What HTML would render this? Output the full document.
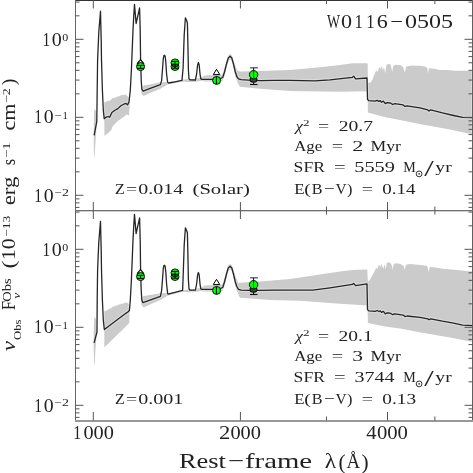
<!DOCTYPE html>
<html><head><meta charset="utf-8"><style>
html,body{margin:0;padding:0;background:#fff;width:473px;height:473px;overflow:hidden;}
svg{display:block;will-change:transform;}
</style></head><body>
<svg width="473" height="473" viewBox="0 0 473 473">
<rect width="473" height="473" fill="#fff"/>
<polygon points="94.3,109.0 96.0,111.0 96.6,122.0 96.2,132.0 95.3,145.0 94.6,156.6 94.0,156.6 93.7,140.0 93.9,120.0" fill="#cbcbcb"/>
<polygon points="104.0,102.8 105.5,102.3 107.5,101.1 109.5,100.8 111.2,99.6 112.7,98.1 115.0,97.8 117.1,96.7 119.0,96.3 120.8,95.2 123.0,95.0 125.3,94.4 127.5,95.9 129.4,98.5 130.0,101.0 129.7,106.3 129.2,112.0 129.0,115.2 126.7,114.4 123.8,116.7 120.1,119.6 117.5,121.2 115.6,123.3 112.7,126.3 111.2,130.0 108.2,133.0 104.5,135.9" fill="#cbcbcb"/>
<polygon points="141.3,88.0 143.7,85.5 150.0,84.6 158.9,82.6 161.0,82.0 168.0,82.2 175.0,81.2 182.0,79.8 189.0,79.0 195.0,79.0 201.0,77.6 205.0,75.6 212.0,75.0 220.0,75.0 222.5,74.5 224.5,68.5 226.5,61.0 228.3,55.5 230.1,53.8 231.8,55.5 233.5,61.0 235.5,66.5 237.5,70.5 240.0,71.6 250.0,71.2 260.0,71.0 290.0,70.0 320.0,67.3 340.0,65.0 352.0,63.3 367.0,63.3 367.7,63.7 367.9,82.9 370.5,82.5 372.6,79.6 373.4,77.0 375.1,72.8 376.4,70.3 377.2,72.0 378.1,70.7 379.3,66.5 380.2,69.0 381.9,66.0 382.7,70.7 384.0,66.9 385.2,73.2 386.5,64.8 388.2,63.9 390.5,64.3 391.8,69.8 392.2,72.0 393.1,66.5 394.8,64.8 400.7,65.2 403.2,67.3 404.9,72.4 406.2,66.5 411.7,65.6 416.0,65.8 420.8,65.8 425.6,66.7 427.3,68.0 428.0,73.7 428.8,68.5 429.9,68.2 434.1,68.8 440.1,70.0 447.3,70.0 455.8,70.7 467.8,70.7 471.0,70.8 473.0,71.0 473.0,134.5 450.0,129.5 420.7,124.3 400.0,120.0 385.5,117.3 367.9,112.6 367.6,91.2 340.0,91.8 290.0,90.9 270.0,89.6 260.0,88.8 250.0,87.8 240.0,86.8 238.5,84.5 236.8,80.5 235.0,75.0 233.5,67.0 231.8,61.0 230.1,59.0 228.3,61.0 226.5,67.0 224.5,75.5 222.5,81.0 215.0,81.6 205.0,81.4 201.0,80.8 195.0,82.0 189.0,82.0 182.0,81.6 175.0,82.9 168.0,84.3 160.8,88.5 150.0,93.0 143.7,96.1 141.5,94.0" fill="#cbcbcb"/>
<polygon points="94.3,317.0 96.0,319.0 96.6,330.0 96.2,340.0 95.3,352.0 94.8,364.0 94.2,364.0 93.6,348.0 93.8,328.0" fill="#cbcbcb"/>
<polygon points="104.3,311.5 105.3,310.7 106.5,310.8 107.5,309.5 108.5,309.8 110.0,308.2 111.0,308.5 112.7,306.5 114.0,306.8 115.0,305.5 116.5,305.8 118.6,304.4 120.0,304.6 121.0,303.6 122.5,304.0 124.5,302.8 126.7,302.6 128.3,303.5 129.2,306.0 129.4,312.0 129.3,322.9 104.3,347.4" fill="#cbcbcb"/>
<polygon points="141.3,298.0 143.7,296.0 150.0,295.0 158.9,293.4 161.0,293.0 168.0,293.2 175.0,292.0 182.0,290.5 189.0,289.5 195.0,289.2 201.0,287.6 205.0,285.6 212.0,285.0 220.0,285.0 222.5,284.5 224.5,278.5 226.5,271.0 228.3,265.5 230.1,263.8 231.8,265.5 233.5,271.0 235.5,276.5 237.5,280.5 238.1,282.9 250.0,282.0 260.0,281.5 290.0,279.0 320.0,274.5 340.0,271.4 352.0,270.0 367.0,269.6 367.3,269.6 367.9,281.7 370.5,279.1 372.6,274.8 374.7,271.1 376.3,267.4 377.3,269.6 378.9,264.3 380.5,266.9 381.6,263.7 383.1,269.0 384.7,264.3 385.8,269.6 386.8,262.7 389.0,262.2 391.1,263.7 392.2,267.0 392.7,270.1 393.7,263.7 396.9,263.2 401.1,264.3 403.8,265.9 404.8,270.1 405.9,264.8 410.0,264.0 423.3,265.3 427.3,266.0 428.7,272.0 430.0,266.7 443.3,268.7 456.7,270.0 468.0,271.3 473.0,271.5 473.0,342.0 450.0,337.5 420.7,332.5 400.0,328.5 385.0,326.4 367.9,322.9 367.6,305.6 340.0,303.8 300.0,300.7 270.0,300.0 250.0,298.5 240.0,297.7 238.5,294.5 236.8,290.5 235.0,285.0 233.5,277.0 231.8,271.0 230.1,269.0 228.3,271.0 226.5,277.0 224.5,285.5 222.5,291.0 215.0,291.8 205.0,291.6 201.0,291.0 195.0,292.0 189.0,292.2 182.0,291.8 175.0,293.4 168.0,295.4 160.8,299.7 149.4,304.8 143.7,307.4 141.5,305.0" fill="#cbcbcb"/>
<rect x="471" y="71" width="1" height="63.5" fill="#d9d9d9"/>
<rect x="471" y="271.5" width="1" height="70.5" fill="#d9d9d9"/>
<defs><clipPath id="gc"><polygon points="104.0,102.8 105.5,102.3 107.5,101.1 109.5,100.8 111.2,99.6 112.7,98.1 115.0,97.8 117.1,96.7 119.0,96.3 120.8,95.2 123.0,95.0 125.3,94.4 127.5,95.9 129.4,98.5 130.0,101.0 129.7,106.3 129.2,112.0 129.0,115.2 126.7,114.4 123.8,116.7 120.1,119.6 117.5,121.2 115.6,123.3 112.7,126.3 111.2,130.0 108.2,133.0 104.5,135.9"/><polygon points="141.3,88.0 143.7,85.5 150.0,84.6 158.9,82.6 161.0,82.0 168.0,82.2 175.0,81.2 182.0,79.8 189.0,79.0 195.0,79.0 201.0,77.6 205.0,75.6 212.0,75.0 220.0,75.0 222.5,74.5 224.5,68.5 226.5,61.0 228.3,55.5 230.1,53.8 231.8,55.5 233.5,61.0 235.5,66.5 237.5,70.5 240.0,71.6 250.0,71.2 260.0,71.0 290.0,70.0 320.0,67.3 340.0,65.0 352.0,63.3 367.0,63.3 367.7,63.7 367.9,82.9 370.5,82.5 372.6,79.6 373.4,77.0 375.1,72.8 376.4,70.3 377.2,72.0 378.1,70.7 379.3,66.5 380.2,69.0 381.9,66.0 382.7,70.7 384.0,66.9 385.2,73.2 386.5,64.8 388.2,63.9 390.5,64.3 391.8,69.8 392.2,72.0 393.1,66.5 394.8,64.8 400.7,65.2 403.2,67.3 404.9,72.4 406.2,66.5 411.7,65.6 416.0,65.8 420.8,65.8 425.6,66.7 427.3,68.0 428.0,73.7 428.8,68.5 429.9,68.2 434.1,68.8 440.1,70.0 447.3,70.0 455.8,70.7 467.8,70.7 471.0,70.8 473.0,71.0 473.0,134.5 450.0,129.5 420.7,124.3 400.0,120.0 385.5,117.3 367.9,112.6 367.6,91.2 340.0,91.8 290.0,90.9 270.0,89.6 260.0,88.8 250.0,87.8 240.0,86.8 238.5,84.5 236.8,80.5 235.0,75.0 233.5,67.0 231.8,61.0 230.1,59.0 228.3,61.0 226.5,67.0 224.5,75.5 222.5,81.0 215.0,81.6 205.0,81.4 201.0,80.8 195.0,82.0 189.0,82.0 182.0,81.6 175.0,82.9 168.0,84.3 160.8,88.5 150.0,93.0 143.7,96.1 141.5,94.0"/><polygon points="104.3,311.5 105.3,310.7 106.5,310.8 107.5,309.5 108.5,309.8 110.0,308.2 111.0,308.5 112.7,306.5 114.0,306.8 115.0,305.5 116.5,305.8 118.6,304.4 120.0,304.6 121.0,303.6 122.5,304.0 124.5,302.8 126.7,302.6 128.3,303.5 129.2,306.0 129.4,312.0 129.3,322.9 104.3,347.4"/><polygon points="141.3,298.0 143.7,296.0 150.0,295.0 158.9,293.4 161.0,293.0 168.0,293.2 175.0,292.0 182.0,290.5 189.0,289.5 195.0,289.2 201.0,287.6 205.0,285.6 212.0,285.0 220.0,285.0 222.5,284.5 224.5,278.5 226.5,271.0 228.3,265.5 230.1,263.8 231.8,265.5 233.5,271.0 235.5,276.5 237.5,280.5 238.1,282.9 250.0,282.0 260.0,281.5 290.0,279.0 320.0,274.5 340.0,271.4 352.0,270.0 367.0,269.6 367.3,269.6 367.9,281.7 370.5,279.1 372.6,274.8 374.7,271.1 376.3,267.4 377.3,269.6 378.9,264.3 380.5,266.9 381.6,263.7 383.1,269.0 384.7,264.3 385.8,269.6 386.8,262.7 389.0,262.2 391.1,263.7 392.2,267.0 392.7,270.1 393.7,263.7 396.9,263.2 401.1,264.3 403.8,265.9 404.8,270.1 405.9,264.8 410.0,264.0 423.3,265.3 427.3,266.0 428.7,272.0 430.0,266.7 443.3,268.7 456.7,270.0 468.0,271.3 473.0,271.5 473.0,342.0 450.0,337.5 420.7,332.5 400.0,328.5 385.0,326.4 367.9,322.9 367.6,305.6 340.0,303.8 300.0,300.7 270.0,300.0 250.0,298.5 240.0,297.7 238.5,294.5 236.8,290.5 235.0,285.0 233.5,277.0 231.8,271.0 230.1,269.0 228.3,271.0 226.5,277.0 224.5,285.5 222.5,291.0 215.0,291.8 205.0,291.6 201.0,291.0 195.0,292.0 189.0,292.2 182.0,291.8 175.0,293.4 168.0,295.4 160.8,299.7 149.4,304.8 143.7,307.4 141.5,305.0"/></clipPath></defs>
<g clip-path="url(#gc)" fill="none" stroke="#dadada" stroke-width="3.6" stroke-linejoin="round"><polyline points="94.1,135.4 96.8,121.6 97.2,90.0 97.6,60.0 98.8,32.0 100.5,11.2 101.2,40.0 101.5,60.0 102.4,90.0 103.3,110.0 104.2,118.7 106.0,117.2 108.2,116.5 109.7,117.3 111.9,112.4 114.9,110.2 117.9,108.6 120.8,105.8 123.8,104.2 126.0,103.4 127.5,104.9 129.0,102.0 130.3,90.2 131.4,70.0 132.2,50.0 133.0,30.0 133.8,15.0 134.5,4.4 136.1,23.5 139.6,7.9 140.2,30.0 140.6,60.0 141.2,80.0 141.8,89.0 143.1,91.2 150.2,88.4 160.4,84.6 161.6,80.6 162.6,68.0 163.3,58.5 163.9,55.6 164.6,55.2 165.2,56.5 165.8,62.0 166.6,74.0 167.6,82.2 168.6,83.0 175.0,81.8 182.0,80.4 183.1,68.0 184.2,35.0 185.4,17.8 186.6,20.5 187.4,23.0 187.8,40.0 188.4,70.0 189.0,78.6 189.8,79.8 195.4,80.0 196.6,74.0 197.6,65.0 198.4,62.5 199.2,65.0 200.0,74.0 200.8,78.8 202.0,79.3 211.6,79.3 220.0,78.6 222.7,77.5 224.5,72.0 226.5,64.0 228.3,58.0 230.1,56.1 231.8,58.0 233.5,64.0 235.2,71.5 236.8,76.5 238.5,78.8 241.2,79.6 248.6,80.1 260.0,80.6 275.0,80.4 290.0,80.4 314.7,80.9 330.0,79.8 352.4,77.3 353.7,76.2 355.6,78.9 367.0,78.0 367.5,99.4 368.8,100.7 375.2,101.1 377.1,100.3 379.0,101.3 380.2,100.7 381.5,102.2 383.4,101.1 385.3,103.6 387.2,102.6 390.4,103.0 392.7,104.5 394.8,103.6 403.1,104.9 405.0,106.4 406.9,105.8 420.0,107.8 427.8,109.9 429.0,111.0 430.7,109.9 442.4,112.9 453.6,115.5 462.6,117.4 473.0,117.7"/><polyline points="94.1,342.8 97.0,332.0 97.2,300.0 97.6,270.0 98.8,242.0 100.5,221.4 101.2,250.0 101.5,270.0 102.4,300.0 103.3,320.0 104.3,329.5 126.2,313.1 127.5,312.3 129.4,310.6 130.3,300.2 131.4,280.0 132.2,260.0 133.0,240.0 133.8,225.0 134.5,214.4 136.1,233.5 139.6,217.9 140.2,240.0 140.6,270.0 141.2,290.0 141.8,300.0 142.9,302.7 160.4,296.3 161.6,290.6 162.6,278.0 163.3,268.5 163.9,265.6 164.6,265.2 165.2,266.5 165.8,272.0 166.6,284.0 167.6,293.4 168.2,294.2 182.6,290.4 183.1,278.0 184.2,245.0 185.4,227.8 186.6,230.5 187.4,233.0 187.8,250.0 188.4,280.0 189.0,288.6 189.8,290.1 195.4,290.2 196.6,284.0 197.6,275.0 198.4,272.5 199.2,275.0 200.0,284.0 200.8,288.8 202.0,289.3 211.6,289.3 220.0,288.6 222.7,287.5 224.5,282.0 226.5,274.0 228.3,268.0 230.1,266.1 231.8,268.0 233.5,274.0 235.2,281.5 236.8,286.5 238.5,289.3 241.2,290.2 248.6,290.3 260.0,290.3 275.0,290.2 290.0,290.1 312.8,290.1 330.0,287.8 352.4,284.4 353.7,283.4 355.6,285.7 367.0,283.8 367.5,309.6 368.8,310.9 375.2,311.3 377.1,310.5 379.0,311.5 380.2,310.9 381.5,312.4 383.4,311.3 385.3,313.8 387.2,312.8 390.4,313.2 392.7,314.7 394.8,313.8 403.1,315.1 405.0,316.6 406.9,316.0 420.0,317.4 427.8,318.8 429.0,319.8 430.7,318.8 442.4,321.2 453.6,323.2 462.6,325.1 473.0,325.7"/></g>
<polyline points="94.1,135.4 96.8,121.6 97.2,90.0 97.6,60.0 98.8,32.0 100.5,11.2 101.2,40.0 101.5,60.0 102.4,90.0 103.3,110.0 104.2,118.7 106.0,117.2 108.2,116.5 109.7,117.3 111.9,112.4 114.9,110.2 117.9,108.6 120.8,105.8 123.8,104.2 126.0,103.4 127.5,104.9 129.0,102.0 130.3,90.2 131.4,70.0 132.2,50.0 133.0,30.0 133.8,15.0 134.5,4.4 136.1,23.5 139.6,7.9 140.2,30.0 140.6,60.0 141.2,80.0 141.8,89.0 143.1,91.2 150.2,88.4 160.4,84.6 161.6,80.6 162.6,68.0 163.3,58.5 163.9,55.6 164.6,55.2 165.2,56.5 165.8,62.0 166.6,74.0 167.6,82.2 168.6,83.0 175.0,81.8 182.0,80.4 183.1,68.0 184.2,35.0 185.4,17.8 186.6,20.5 187.4,23.0 187.8,40.0 188.4,70.0 189.0,78.6 189.8,79.8 195.4,80.0 196.6,74.0 197.6,65.0 198.4,62.5 199.2,65.0 200.0,74.0 200.8,78.8 202.0,79.3 211.6,79.3 220.0,78.6 222.7,77.5 224.5,72.0 226.5,64.0 228.3,58.0 230.1,56.1 231.8,58.0 233.5,64.0 235.2,71.5 236.8,76.5 238.5,78.8 241.2,79.6 248.6,80.1 260.0,80.6 275.0,80.4 290.0,80.4 314.7,80.9 330.0,79.8 352.4,77.3 353.7,76.2 355.6,78.9 367.0,78.0 367.5,99.4 368.8,100.7 375.2,101.1 377.1,100.3 379.0,101.3 380.2,100.7 381.5,102.2 383.4,101.1 385.3,103.6 387.2,102.6 390.4,103.0 392.7,104.5 394.8,103.6 403.1,104.9 405.0,106.4 406.9,105.8 420.0,107.8 427.8,109.9 429.0,111.0 430.7,109.9 442.4,112.9 453.6,115.5 462.6,117.4 473.0,117.7" fill="none" stroke="#262626" stroke-width="1.3" stroke-linejoin="round"/>
<polyline points="94.1,342.8 97.0,332.0 97.2,300.0 97.6,270.0 98.8,242.0 100.5,221.4 101.2,250.0 101.5,270.0 102.4,300.0 103.3,320.0 104.3,329.5 126.2,313.1 127.5,312.3 129.4,310.6 130.3,300.2 131.4,280.0 132.2,260.0 133.0,240.0 133.8,225.0 134.5,214.4 136.1,233.5 139.6,217.9 140.2,240.0 140.6,270.0 141.2,290.0 141.8,300.0 142.9,302.7 160.4,296.3 161.6,290.6 162.6,278.0 163.3,268.5 163.9,265.6 164.6,265.2 165.2,266.5 165.8,272.0 166.6,284.0 167.6,293.4 168.2,294.2 182.6,290.4 183.1,278.0 184.2,245.0 185.4,227.8 186.6,230.5 187.4,233.0 187.8,250.0 188.4,280.0 189.0,288.6 189.8,290.1 195.4,290.2 196.6,284.0 197.6,275.0 198.4,272.5 199.2,275.0 200.0,284.0 200.8,288.8 202.0,289.3 211.6,289.3 220.0,288.6 222.7,287.5 224.5,282.0 226.5,274.0 228.3,268.0 230.1,266.1 231.8,268.0 233.5,274.0 235.2,281.5 236.8,286.5 238.5,289.3 241.2,290.2 248.6,290.3 260.0,290.3 275.0,290.2 290.0,290.1 312.8,290.1 330.0,287.8 352.4,284.4 353.7,283.4 355.6,285.7 367.0,283.8 367.5,309.6 368.8,310.9 375.2,311.3 377.1,310.5 379.0,311.5 380.2,310.9 381.5,312.4 383.4,311.3 385.3,313.8 387.2,312.8 390.4,313.2 392.7,314.7 394.8,313.8 403.1,315.1 405.0,316.6 406.9,316.0 420.0,317.4 427.8,318.8 429.0,319.8 430.7,318.8 442.4,321.2 453.6,323.2 462.6,325.1 473.0,325.7" fill="none" stroke="#262626" stroke-width="1.3" stroke-linejoin="round"/>
<polygon points="140.5,59.6 137.3,63.4 143.7,63.4" fill="#fff" stroke="#000" stroke-width="1.1" stroke-linejoin="round"/>
<circle cx="140.55" cy="66.6" r="4.0" fill="#00ff00" stroke="#000" stroke-width="0.9"/>
<path d="M136.9 65.3H144.2M136.9 68.4H144.2M140.6 65.3V68.4" stroke="#000" stroke-width="1"/>
<circle cx="175.0" cy="66.5" r="4.0" fill="#00ff00" stroke="#000" stroke-width="0.9"/>
<circle cx="175.0" cy="62.9" r="4.0" fill="#00ff00" stroke="#000" stroke-width="0.9"/>
<path d="M171.3 61.4H178.7M171.3 64.2H178.7M171.3 65.0H178.7M171.3 68.2H178.7M175 61.4V68.2" stroke="#000" stroke-width="1"/>
<polygon points="216.5,69.3 213.3,74.6 219.8,74.6" fill="#fff" stroke="#000" stroke-width="1" stroke-linejoin="round"/>
<circle cx="216.6" cy="80.4" r="4.0" fill="#00ff00" stroke="#000" stroke-width="0.9"/>
<path d="M216.4 76.8V84.0" stroke="#000" stroke-width="1"/>
<path d="M250.1 67.8H257.9" stroke="#555" stroke-width="1.3"/>
<path d="M250.0 84.5H257.5" stroke="#111" stroke-width="1.1"/>
<path d="M253.6 67.8V84.5" stroke="#111" stroke-width="1"/>
<ellipse cx="253.5" cy="79.6" rx="3.4" ry="2.6" fill="#444" stroke="#111" stroke-width="1.2"/>
<circle cx="253.6" cy="74.7" r="4.2" fill="#00ff00" stroke="#000" stroke-width="0.9"/>
<path d="M253.6 71V78.5" stroke="#111" stroke-width="0.7"/>
<polygon points="140.5,269.6 137.3,273.4 143.7,273.4" fill="#fff" stroke="#000" stroke-width="1.1" stroke-linejoin="round"/>
<circle cx="140.55" cy="276.6" r="4.0" fill="#00ff00" stroke="#000" stroke-width="0.9"/>
<path d="M136.9 275.3H144.2M136.9 278.4H144.2M140.6 275.3V278.4" stroke="#000" stroke-width="1"/>
<circle cx="175.0" cy="276.5" r="4.0" fill="#00ff00" stroke="#000" stroke-width="0.9"/>
<circle cx="175.0" cy="272.9" r="4.0" fill="#00ff00" stroke="#000" stroke-width="0.9"/>
<path d="M171.3 271.4H178.7M171.3 274.2H178.7M171.3 275.0H178.7M171.3 278.2H178.7M175 271.4V278.2" stroke="#000" stroke-width="1"/>
<polygon points="216.5,279.3 213.3,284.6 219.8,284.6" fill="#fff" stroke="#000" stroke-width="1" stroke-linejoin="round"/>
<circle cx="216.6" cy="290.4" r="4.0" fill="#00ff00" stroke="#000" stroke-width="0.9"/>
<path d="M216.4 286.8V294.0" stroke="#000" stroke-width="1"/>
<path d="M250.1 277.8H257.9" stroke="#555" stroke-width="1.3"/>
<path d="M250.0 294.5H257.5" stroke="#111" stroke-width="1.1"/>
<path d="M253.6 277.8V294.5" stroke="#111" stroke-width="1"/>
<ellipse cx="253.5" cy="289.6" rx="3.4" ry="2.6" fill="#444" stroke="#111" stroke-width="1.2"/>
<circle cx="253.6" cy="284.7" r="4.2" fill="#00ff00" stroke="#000" stroke-width="0.9"/>
<path d="M253.6 281V288.5" stroke="#111" stroke-width="0.7"/>
<rect x="75" y="0" width="398" height="1" fill="#333"/>
<rect x="75" y="0" width="1" height="422" fill="#666"/>
<rect x="472" y="0" width="1" height="422" fill="#606060"/>
<rect x="75" y="210" width="398" height="1" fill="#707070"/>
<rect x="76" y="211" width="396" height="1" fill="#d0d0d0"/>
<rect x="75" y="420" width="398" height="2" fill="#989898"/>
<path d="M75.5 39.30h8M472.5 39.30h-8M75.5 15.82h4M472.5 15.82h-4M75.5 2.08h4M472.5 2.08h-4M75.5 117.30h8M472.5 117.30h-8M75.5 93.82h4M472.5 93.82h-4M75.5 80.08h4M472.5 80.08h-4M75.5 70.34h4M472.5 70.34h-4M75.5 62.78h4M472.5 62.78h-4M75.5 56.60h4M472.5 56.60h-4M75.5 51.38h4M472.5 51.38h-4M75.5 46.86h4M472.5 46.86h-4M75.5 42.87h4M472.5 42.87h-4M75.5 195.30h8M472.5 195.30h-8M75.5 171.82h4M472.5 171.82h-4M75.5 158.08h4M472.5 158.08h-4M75.5 148.34h4M472.5 148.34h-4M75.5 140.78h4M472.5 140.78h-4M75.5 134.60h4M472.5 134.60h-4M75.5 129.38h4M472.5 129.38h-4M75.5 124.86h4M472.5 124.86h-4M75.5 120.87h4M472.5 120.87h-4M75.5 207.38h4M472.5 207.38h-4M75.5 202.86h4M472.5 202.86h-4M75.5 198.87h4M472.5 198.87h-4M75.5 249.30h8M472.5 249.30h-8M75.5 225.82h4M472.5 225.82h-4M75.5 212.08h4M472.5 212.08h-4M75.5 327.30h8M472.5 327.30h-8M75.5 303.82h4M472.5 303.82h-4M75.5 290.08h4M472.5 290.08h-4M75.5 280.34h4M472.5 280.34h-4M75.5 272.78h4M472.5 272.78h-4M75.5 266.60h4M472.5 266.60h-4M75.5 261.38h4M472.5 261.38h-4M75.5 256.86h4M472.5 256.86h-4M75.5 252.87h4M472.5 252.87h-4M75.5 405.30h8M472.5 405.30h-8M75.5 381.82h4M472.5 381.82h-4M75.5 368.08h4M472.5 368.08h-4M75.5 358.34h4M472.5 358.34h-4M75.5 350.78h4M472.5 350.78h-4M75.5 344.60h4M472.5 344.60h-4M75.5 339.38h4M472.5 339.38h-4M75.5 334.86h4M472.5 334.86h-4M75.5 330.87h4M472.5 330.87h-4M75.5 417.38h4M472.5 417.38h-4M75.5 412.86h4M472.5 412.86h-4M75.5 408.87h4M472.5 408.87h-4M93.30 0v8.5M93.30 210.5v-8.5M93.30 210.5v8.5M93.30 420.5v-8.5M240.41 0v8.5M240.41 210.5v-8.5M240.41 210.5v8.5M240.41 420.5v-8.5M326.47 0v4M326.47 210.5v-4M326.47 210.5v4M326.47 420.5v-4M387.53 0v8.5M387.53 210.5v-8.5M387.53 210.5v8.5M387.53 420.5v-8.5M434.89 0v4M434.89 210.5v-4M434.89 210.5v4M434.89 420.5v-4" fill="none" stroke="#555" stroke-width="1"/>
<g font-family="Liberation Serif, serif">
<text x="42.46" y="45.90" font-size="18" textLength="7.66" lengthAdjust="spacingAndGlyphs" fill="#222">1</text>
<text x="51.65" y="45.90" font-size="18" textLength="10.00" lengthAdjust="spacingAndGlyphs" fill="#222">0</text>
<text x="62.35" y="40.50" font-size="10.7" textLength="6.00" lengthAdjust="spacingAndGlyphs" fill="#222">0</text>
<text x="34.13" y="123.30" font-size="18" textLength="7.80" lengthAdjust="spacingAndGlyphs" fill="#222">1</text>
<text x="43.66" y="123.30" font-size="18" textLength="9.88" lengthAdjust="spacingAndGlyphs" fill="#222">0</text>
<text x="54.25" y="118.50" font-size="10.7" textLength="7.28" lengthAdjust="spacingAndGlyphs" fill="#222">−</text>
<text x="62.46" y="118.50" font-size="10.7" textLength="5.39" lengthAdjust="spacingAndGlyphs" fill="#222">1</text>
<text x="34.13" y="201.80" font-size="18" textLength="7.80" lengthAdjust="spacingAndGlyphs" fill="#222">1</text>
<text x="43.66" y="201.80" font-size="18" textLength="9.88" lengthAdjust="spacingAndGlyphs" fill="#222">0</text>
<text x="54.25" y="195.90" font-size="10.7" textLength="7.28" lengthAdjust="spacingAndGlyphs" fill="#222">−</text>
<text x="61.91" y="195.90" font-size="10.7" textLength="6.96" lengthAdjust="spacingAndGlyphs" fill="#222">2</text>
<text x="42.46" y="255.90" font-size="18" textLength="7.66" lengthAdjust="spacingAndGlyphs" fill="#222">1</text>
<text x="51.65" y="255.90" font-size="18" textLength="10.00" lengthAdjust="spacingAndGlyphs" fill="#222">0</text>
<text x="62.35" y="250.50" font-size="10.7" textLength="6.00" lengthAdjust="spacingAndGlyphs" fill="#222">0</text>
<text x="34.13" y="333.30" font-size="18" textLength="7.80" lengthAdjust="spacingAndGlyphs" fill="#222">1</text>
<text x="43.66" y="333.30" font-size="18" textLength="9.88" lengthAdjust="spacingAndGlyphs" fill="#222">0</text>
<text x="54.25" y="328.50" font-size="10.7" textLength="7.28" lengthAdjust="spacingAndGlyphs" fill="#222">−</text>
<text x="62.46" y="328.50" font-size="10.7" textLength="5.39" lengthAdjust="spacingAndGlyphs" fill="#222">1</text>
<text x="34.13" y="411.80" font-size="18" textLength="7.80" lengthAdjust="spacingAndGlyphs" fill="#222">1</text>
<text x="43.66" y="411.80" font-size="18" textLength="9.88" lengthAdjust="spacingAndGlyphs" fill="#222">0</text>
<text x="54.25" y="405.90" font-size="10.7" textLength="7.28" lengthAdjust="spacingAndGlyphs" fill="#222">−</text>
<text x="61.91" y="405.90" font-size="10.7" textLength="6.96" lengthAdjust="spacingAndGlyphs" fill="#222">2</text>
<text x="73.21" y="439.30" font-size="18.2" textLength="7.94" lengthAdjust="spacingAndGlyphs" fill="#222">1</text>
<text x="83.44" y="439.30" font-size="18.2" textLength="30.42" lengthAdjust="spacingAndGlyphs" fill="#222">000</text>
<text x="219.14" y="439.30" font-size="18.2" textLength="11.30" lengthAdjust="spacingAndGlyphs" fill="#222">2</text>
<text x="230.44" y="439.30" font-size="18.2" textLength="30.53" lengthAdjust="spacingAndGlyphs" fill="#222">000</text>
<text x="366.19" y="439.30" font-size="18.2" textLength="10.32" lengthAdjust="spacingAndGlyphs" fill="#222">4</text>
<text x="376.92" y="439.30" font-size="18.2" textLength="31.05" lengthAdjust="spacingAndGlyphs" fill="#222">000</text>
<text x="178.97" y="468.30" font-size="22" textLength="46.97" lengthAdjust="spacingAndGlyphs" fill="#222">Rest</text>
<text x="228.08" y="468.30" font-size="22" textLength="16.01" lengthAdjust="spacingAndGlyphs" fill="#222">−</text>
<text x="245.04" y="468.30" font-size="22" textLength="67.04" lengthAdjust="spacingAndGlyphs" fill="#222">frame</text>
<text x="324.81" y="468.30" font-size="22" textLength="11.40" lengthAdjust="spacingAndGlyphs" fill="#222">λ</text>
<text x="338.59" y="468.80" font-size="22" textLength="7.11" lengthAdjust="spacingAndGlyphs" fill="#222">(</text>
<text x="346.61" y="468.30" font-size="22" textLength="13.62" lengthAdjust="spacingAndGlyphs" fill="#222">Å</text>
<text x="361.51" y="468.80" font-size="22" textLength="7.11" lengthAdjust="spacingAndGlyphs" fill="#222">)</text>
<g transform="translate(14.8,351.4) rotate(-90)">
<text x="0.47" y="0.00" font-size="19" textLength="9.91" lengthAdjust="spacingAndGlyphs" fill="#222" font-style="italic">ν</text>
<text x="11.39" y="5.90" font-size="10.1" textLength="20.47" lengthAdjust="spacingAndGlyphs" fill="#222">Obs</text>
<text x="41.35" y="0.00" font-size="19" textLength="9.03" lengthAdjust="spacingAndGlyphs" fill="#222">F</text>
<text x="49.62" y="-4.30" font-size="12.2" textLength="23.30" lengthAdjust="spacingAndGlyphs" fill="#222">Obs</text>
<text x="52.70" y="5.40" font-size="10" textLength="5.99" lengthAdjust="spacingAndGlyphs" fill="#222" font-style="italic">ν</text>
<text x="82.99" y="0.00" font-size="19" textLength="7.89" lengthAdjust="spacingAndGlyphs" fill="#222">(</text>
<text x="91.18" y="0.00" font-size="18.7" textLength="21.94" lengthAdjust="spacingAndGlyphs" fill="#222">10</text>
<text x="114.52" y="-5.20" font-size="11" textLength="21.21" lengthAdjust="spacingAndGlyphs" fill="#222">−13</text>
<text x="146.09" y="0.00" font-size="18.5" textLength="28.64" lengthAdjust="spacingAndGlyphs" fill="#222">erg</text>
<text x="186.25" y="0.00" font-size="18.5" textLength="6.35" lengthAdjust="spacingAndGlyphs" fill="#222">s</text>
<text x="193.46" y="-5.20" font-size="11" textLength="15.71" lengthAdjust="spacingAndGlyphs" fill="#222">−1</text>
<text x="220.87" y="0.00" font-size="18.5" textLength="27.04" lengthAdjust="spacingAndGlyphs" fill="#222">cm</text>
<text x="248.41" y="-5.20" font-size="11" textLength="14.74" lengthAdjust="spacingAndGlyphs" fill="#222">−2</text>
<text x="266.14" y="0.00" font-size="19" textLength="6.72" lengthAdjust="spacingAndGlyphs" fill="#222">)</text>
</g>
<text x="327.00" y="28.10" font-size="19.6" textLength="13.02" lengthAdjust="spacingAndGlyphs" fill="#222">W</text>
<text x="340.97" y="28.10" font-size="19.6" textLength="11.06" lengthAdjust="spacingAndGlyphs" fill="#222">0</text>
<text x="354.54" y="28.10" font-size="19.6" textLength="8.37" lengthAdjust="spacingAndGlyphs" fill="#222">1</text>
<text x="366.34" y="28.10" font-size="19.6" textLength="8.37" lengthAdjust="spacingAndGlyphs" fill="#222">1</text>
<text x="376.67" y="28.10" font-size="19.6" textLength="10.99" lengthAdjust="spacingAndGlyphs" fill="#222">6</text>
<text x="390.27" y="28.10" font-size="19.6" textLength="12.74" lengthAdjust="spacingAndGlyphs" fill="#222">−</text>
<text x="405.00" y="28.10" font-size="19.6" textLength="48.06" lengthAdjust="spacingAndGlyphs" fill="#222">0505</text>
<text x="295.45" y="130.50" font-size="15.5" textLength="7.41" lengthAdjust="spacingAndGlyphs" fill="#222" font-style="italic">χ</text>
<text x="302.94" y="125.60" font-size="8.7" textLength="6.58" lengthAdjust="spacingAndGlyphs" fill="#222">2</text>
<text x="317.91" y="130.50" font-size="15.5" textLength="11.16" lengthAdjust="spacingAndGlyphs" fill="#222">=</text>
<text x="338.67" y="130.50" font-size="15.5" textLength="34.38" lengthAdjust="spacingAndGlyphs" fill="#222">20.7</text>
<text x="294.23" y="150.70" font-size="15.5" textLength="28.03" lengthAdjust="spacingAndGlyphs" fill="#222">Age</text>
<text x="331.89" y="150.70" font-size="15.5" textLength="11.40" lengthAdjust="spacingAndGlyphs" fill="#222">=</text>
<text x="352.26" y="150.70" font-size="15.5" textLength="11.06" lengthAdjust="spacingAndGlyphs" fill="#222">2</text>
<text x="370.51" y="150.70" font-size="15.5" textLength="30.41" lengthAdjust="spacingAndGlyphs" fill="#222">Myr</text>
<text x="293.61" y="172.00" font-size="15.5" textLength="31.32" lengthAdjust="spacingAndGlyphs" fill="#222">SFR</text>
<text x="333.97" y="172.00" font-size="15.5" textLength="11.64" lengthAdjust="spacingAndGlyphs" fill="#222">=</text>
<text x="354.23" y="172.00" font-size="15.5" textLength="40.79" lengthAdjust="spacingAndGlyphs" fill="#222">5559</text>
<text x="403.21" y="172.00" font-size="15.5" textLength="12.50" lengthAdjust="spacingAndGlyphs" fill="#222">M</text>
<circle cx="419.1" cy="173.9" r="2.9" fill="none" stroke="#1a1a1a" stroke-width="0.9"/><circle cx="419.1" cy="173.9" r="0.8" fill="#1a1a1a"/>
<text x="424.20" y="175.60" font-size="22.8" textLength="9.51" lengthAdjust="spacingAndGlyphs" fill="#222">/</text>
<text x="435.36" y="172.00" font-size="15.5" textLength="16.30" lengthAdjust="spacingAndGlyphs" fill="#222">yr</text>
<text x="294.34" y="194.30" font-size="15.5" textLength="10.32" lengthAdjust="spacingAndGlyphs" fill="#222">E</text>
<text x="304.36" y="194.30" font-size="15.5" textLength="6.60" lengthAdjust="spacingAndGlyphs" fill="#222">(</text>
<text x="311.76" y="194.30" font-size="15.5" textLength="10.74" lengthAdjust="spacingAndGlyphs" fill="#222">B</text>
<text x="323.94" y="194.30" font-size="15.5" textLength="10.79" lengthAdjust="spacingAndGlyphs" fill="#222">−</text>
<text x="335.55" y="194.30" font-size="15.5" textLength="11.14" lengthAdjust="spacingAndGlyphs" fill="#222">V</text>
<text x="347.07" y="194.30" font-size="15.5" textLength="5.43" lengthAdjust="spacingAndGlyphs" fill="#222">)</text>
<text x="361.80" y="194.30" font-size="15.5" textLength="11.28" lengthAdjust="spacingAndGlyphs" fill="#222">=</text>
<text x="382.39" y="194.30" font-size="15.5" textLength="33.20" lengthAdjust="spacingAndGlyphs" fill="#222">0.14</text>
<text x="115.14" y="194.10" font-size="15.5" textLength="9.75" lengthAdjust="spacingAndGlyphs" fill="#222">Z</text>
<text x="125.91" y="194.10" font-size="15.5" textLength="11.16" lengthAdjust="spacingAndGlyphs" fill="#222">=</text>
<text x="138.25" y="194.10" font-size="15.5" textLength="44.85" lengthAdjust="spacingAndGlyphs" fill="#222">0.014</text>
<text x="192.52" y="194.10" font-size="15.5" textLength="57.34" lengthAdjust="spacingAndGlyphs" fill="#222">(Solar)</text>
<text x="295.45" y="340.50" font-size="15.5" textLength="7.41" lengthAdjust="spacingAndGlyphs" fill="#222" font-style="italic">χ</text>
<text x="302.94" y="335.60" font-size="8.7" textLength="6.58" lengthAdjust="spacingAndGlyphs" fill="#222">2</text>
<text x="317.91" y="340.50" font-size="15.5" textLength="11.16" lengthAdjust="spacingAndGlyphs" fill="#222">=</text>
<text x="338.47" y="340.50" font-size="15.5" textLength="34.20" lengthAdjust="spacingAndGlyphs" fill="#222">20.1</text>
<text x="294.23" y="360.70" font-size="15.5" textLength="28.03" lengthAdjust="spacingAndGlyphs" fill="#222">Age</text>
<text x="331.89" y="360.70" font-size="15.5" textLength="11.40" lengthAdjust="spacingAndGlyphs" fill="#222">=</text>
<text x="352.18" y="360.70" font-size="15.5" textLength="10.79" lengthAdjust="spacingAndGlyphs" fill="#222">3</text>
<text x="370.51" y="360.70" font-size="15.5" textLength="30.41" lengthAdjust="spacingAndGlyphs" fill="#222">Myr</text>
<text x="293.61" y="382.00" font-size="15.5" textLength="31.32" lengthAdjust="spacingAndGlyphs" fill="#222">SFR</text>
<text x="333.97" y="382.00" font-size="15.5" textLength="11.64" lengthAdjust="spacingAndGlyphs" fill="#222">=</text>
<text x="354.45" y="382.00" font-size="15.5" textLength="40.05" lengthAdjust="spacingAndGlyphs" fill="#222">3744</text>
<text x="403.21" y="382.00" font-size="15.5" textLength="12.50" lengthAdjust="spacingAndGlyphs" fill="#222">M</text>
<circle cx="419.1" cy="383.9" r="2.9" fill="none" stroke="#1a1a1a" stroke-width="0.9"/><circle cx="419.1" cy="383.9" r="0.8" fill="#1a1a1a"/>
<text x="424.20" y="385.60" font-size="22.8" textLength="9.51" lengthAdjust="spacingAndGlyphs" fill="#222">/</text>
<text x="435.36" y="382.00" font-size="15.5" textLength="16.30" lengthAdjust="spacingAndGlyphs" fill="#222">yr</text>
<text x="294.34" y="404.30" font-size="15.5" textLength="10.32" lengthAdjust="spacingAndGlyphs" fill="#222">E</text>
<text x="304.36" y="404.30" font-size="15.5" textLength="6.60" lengthAdjust="spacingAndGlyphs" fill="#222">(</text>
<text x="311.76" y="404.30" font-size="15.5" textLength="10.74" lengthAdjust="spacingAndGlyphs" fill="#222">B</text>
<text x="323.94" y="404.30" font-size="15.5" textLength="10.79" lengthAdjust="spacingAndGlyphs" fill="#222">−</text>
<text x="335.55" y="404.30" font-size="15.5" textLength="11.14" lengthAdjust="spacingAndGlyphs" fill="#222">V</text>
<text x="347.07" y="404.30" font-size="15.5" textLength="5.43" lengthAdjust="spacingAndGlyphs" fill="#222">)</text>
<text x="361.80" y="404.30" font-size="15.5" textLength="11.28" lengthAdjust="spacingAndGlyphs" fill="#222">=</text>
<text x="382.38" y="404.30" font-size="15.5" textLength="33.69" lengthAdjust="spacingAndGlyphs" fill="#222">0.13</text>
<text x="115.14" y="404.10" font-size="15.5" textLength="9.75" lengthAdjust="spacingAndGlyphs" fill="#222">Z</text>
<text x="125.91" y="404.10" font-size="15.5" textLength="11.16" lengthAdjust="spacingAndGlyphs" fill="#222">=</text>
<text x="138.25" y="404.10" font-size="15.5" textLength="45.16" lengthAdjust="spacingAndGlyphs" fill="#222">0.001</text>
</g>
</svg>
</body></html>
